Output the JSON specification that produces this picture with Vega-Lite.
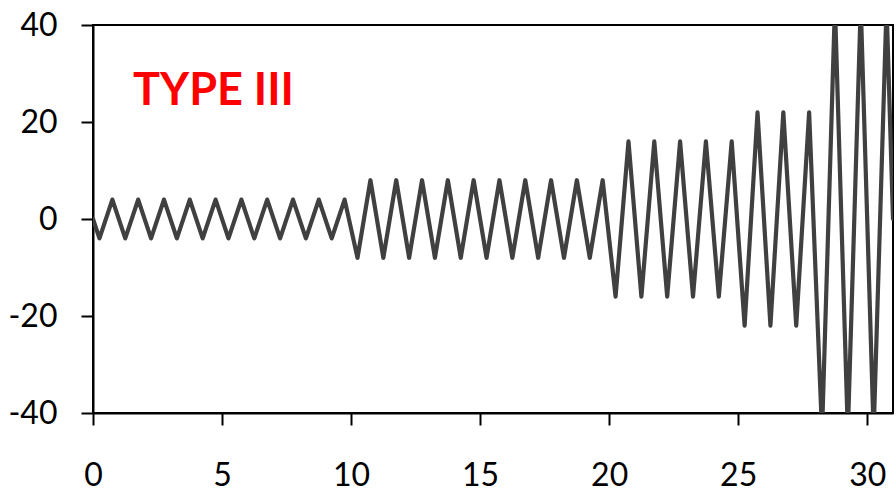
{
  "$schema": "https://vega.github.io/schema/vega-lite/v6.json",
  "autosize": {"type": "none"},
  "padding": {"left": 93, "top": 25, "right": 3, "bottom": 81},
  "width": 800,
  "height": 388,
  "background": "white",
  "config": {
    "view": {"stroke": "black", "strokeWidth": 2},
    "font": "Lato",
    "axis": {
      "grid": false,
      "domainColor": "black",
      "domainWidth": 2,
      "tickColor": "black",
      "tickWidth": 2,
      "tickSize": 12,
      "labelFont": "Lato",
      "labelFontSize": 32,
      "labelColor": "black",
      "title": null
    }
  },
  "datasets": {
    "signal": [
      {"t": 0, "v": 0},
      {"t": 0.25, "v": -4}, {"t": 0.75, "v": 4},
      {"t": 1.25, "v": -4}, {"t": 1.75, "v": 4},
      {"t": 2.25, "v": -4}, {"t": 2.75, "v": 4},
      {"t": 3.25, "v": -4}, {"t": 3.75, "v": 4},
      {"t": 4.25, "v": -4}, {"t": 4.75, "v": 4},
      {"t": 5.25, "v": -4}, {"t": 5.75, "v": 4},
      {"t": 6.25, "v": -4}, {"t": 6.75, "v": 4},
      {"t": 7.25, "v": -4}, {"t": 7.75, "v": 4},
      {"t": 8.25, "v": -4}, {"t": 8.75, "v": 4},
      {"t": 9.25, "v": -4}, {"t": 9.75, "v": 4},
      {"t": 10.25, "v": -8}, {"t": 10.75, "v": 8},
      {"t": 11.25, "v": -8}, {"t": 11.75, "v": 8},
      {"t": 12.25, "v": -8}, {"t": 12.75, "v": 8},
      {"t": 13.25, "v": -8}, {"t": 13.75, "v": 8},
      {"t": 14.25, "v": -8}, {"t": 14.75, "v": 8},
      {"t": 15.25, "v": -8}, {"t": 15.75, "v": 8},
      {"t": 16.25, "v": -8}, {"t": 16.75, "v": 8},
      {"t": 17.25, "v": -8}, {"t": 17.75, "v": 8},
      {"t": 18.25, "v": -8}, {"t": 18.75, "v": 8},
      {"t": 19.25, "v": -8}, {"t": 19.75, "v": 8},
      {"t": 20.25, "v": -16}, {"t": 20.75, "v": 16},
      {"t": 21.25, "v": -16}, {"t": 21.75, "v": 16},
      {"t": 22.25, "v": -16}, {"t": 22.75, "v": 16},
      {"t": 23.25, "v": -16}, {"t": 23.75, "v": 16},
      {"t": 24.25, "v": -16}, {"t": 24.75, "v": 16},
      {"t": 25.25, "v": -22}, {"t": 25.75, "v": 22},
      {"t": 26.25, "v": -22}, {"t": 26.75, "v": 22},
      {"t": 27.25, "v": -22}, {"t": 27.75, "v": 22},
      {"t": 28.25, "v": -44}, {"t": 28.75, "v": 44},
      {"t": 29.25, "v": -44}, {"t": 29.75, "v": 44},
      {"t": 30.25, "v": -44}, {"t": 30.75, "v": 44},
      {"t": 31, "v": 0}
    ],
    "label": [
      {"t": 1.55, "v": 23.5, "text": "TYPE III"}
    ]
  },
  "layer": [
    {
      "data": {"name": "signal"},
      "mark": {"type": "line", "color": "#404040", "strokeWidth": 4.2, "strokeJoin": "round", "strokeCap": "round", "clip": true},
      "encoding": {
        "x": {"field": "t", "type": "quantitative", "scale": {"domain": [0, 31], "nice": false, "zero": false},
              "axis": {"values": [0, 5, 10, 15, 20, 25, 30], "labelPadding": 35, "labelFlush": false, "labelOverlap": false}},
        "y": {"field": "v", "type": "quantitative", "scale": {"domain": [-40, 40], "nice": false},
              "axis": {"values": [-40, -20, 0, 20, 40], "labelPadding": 24, "labelOverlap": false, "labelExpr": "'' + datum.value"}}
      }
    },
    {
      "data": {"name": "label"},
      "mark": {"type": "text", "color": "#FF0000", "fontSize": 45, "fontWeight": "bold", "font": "Lato", "align": "left", "baseline": "alphabetic"},
      "encoding": {
        "x": {"field": "t", "type": "quantitative"},
        "y": {"field": "v", "type": "quantitative"},
        "text": {"field": "text"}
      }
    }
  ]
}
